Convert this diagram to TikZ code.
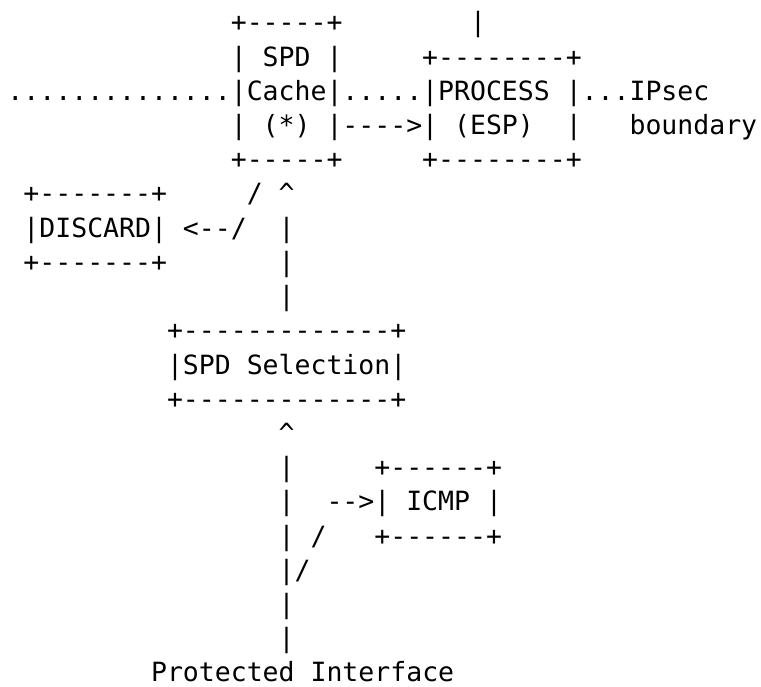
\documentclass[tikz,border=0pt]{standalone}
\usepackage{fontspec}
\setmonofont{DejaVu Sans Mono}
\newcommand\asciisize{\fontsize{26.5pt}{34.2pt}\selectfont}
% character grid: column width and line pitch of the monospaced font
\newcommand\cw{15.95}
\newcommand\lh{34.2}
% place a run of characters at grid cell (column, row)
\newcommand\chars[4]{\node[glyphs] (#1) at ({(7.5+\cw*(#2))*1pt},{-(32+\lh*(#3))*1pt}) {#4};}
\tikzset{glyphs/.style={anchor=base west, inner sep=0pt, outer sep=0pt,
  font=\ttfamily\asciisize, text=black}}
\begin{document}
\begin{tikzpicture}
\useasboundingbox (0,0) rectangle (761pt,-687pt);
% SPD cache box and the link above PROCESS
\chars{cacheTop}{14}{0}{+-----+}
\chars{procIn}{29}{0}{|}
\chars{cacheA}{14}{1}{| SPD |}
\chars{procTop}{26}{1}{+--------+}
% IPsec boundary line
\chars{dotsL}{0}{2}{..............}
\chars{cacheB}{14}{2}{|Cache|}
\chars{dotsM}{21}{2}{.....}
\chars{procA}{26}{2}{|PROCESS |}
\chars{dotsR}{36}{2}{...}
\chars{bndA}{39}{2}{IPsec}
\chars{cacheC}{14}{3}{| (*) |}
\chars{toProc}{21}{3}{---->}
\chars{procB}{26}{3}{| (ESP)~~|}
\chars{bndB}{39}{3}{boundary}
\chars{cacheBot}{14}{4}{+-----+}
\chars{procBot}{26}{4}{+--------+}
% DISCARD branch
\chars{discTop}{1}{5}{+-------+}
\chars{slashA}{15}{5}{/}
\chars{upA}{17}{5}{\textasciicircum}
\chars{discMid}{1}{6}{|DISCARD|}
\chars{toDisc}{11}{6}{<--/}
\chars{vA}{17}{6}{|}
\chars{discBot}{1}{7}{+-------+}
\chars{vB}{17}{7}{|}
\chars{vC}{17}{8}{|}
% SPD selection box
\chars{selTop}{10}{9}{+-------------+}
\chars{selMid}{10}{10}{|SPD Selection|}
\chars{selBot}{10}{11}{+-------------+}
% input path and ICMP branch
\chars{upB}{17}{12}{\textasciicircum}
\chars{vD}{17}{13}{|}
\chars{icmpTop}{23}{13}{+------+}
\chars{vE}{17}{14}{|}
\chars{toIcmp}{20}{14}{-->}
\chars{icmpMid}{23}{14}{| ICMP |}
\chars{vF}{17}{15}{|}
\chars{slashB}{19}{15}{/}
\chars{icmpBot}{23}{15}{+------+}
\chars{vG}{17}{16}{|/}
\chars{vH}{17}{17}{|}
\chars{vI}{17}{18}{|}
\chars{iface}{9}{19}{Protected Interface}
\end{tikzpicture}
\end{document}
